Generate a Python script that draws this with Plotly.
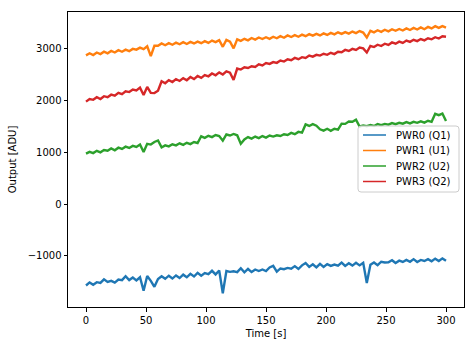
import plotly.graph_objects as go

time_s = [3 * i for i in range(101)]

pwr0 = [-1575, -1515, -1560, -1510, -1525, -1455, -1505, -1485, -1520, -1460,
        -1470, -1395, -1470, -1420, -1475, -1415, -1675, -1390, -1485, -1600,
        -1450, -1395, -1445, -1385, -1440, -1380, -1430, -1365, -1415, -1350,
        -1400, -1330, -1385, -1335, -1355, -1290, -1360, -1285, -1725, -1295,
        -1310, -1300, -1315, -1240, -1320, -1255, -1315, -1265, -1295, -1265,
        -1295, -1225, -1195, -1305, -1245, -1260, -1235, -1250, -1200, -1255,
        -1185, -1140, -1215, -1165, -1225, -1155, -1215, -1160, -1195, -1170,
        -1190, -1130, -1195, -1145, -1190, -1135, -1185, -1135, -1525, -1175,
        -1130, -1180, -1115, -1130, -1125, -1085, -1140, -1095, -1120, -1080,
        -1115, -1065, -1120, -1080, -1100, -1065, -1105, -1055, -1100, -1050,
        -1095]

pwr1 = [2875, 2915, 2880, 2930, 2900, 2945, 2915, 2960, 2930, 2975,
        2945, 2985, 2955, 3000, 2985, 3025, 2995, 3050, 2860, 3060,
        3060, 3105, 3070, 3110, 3080, 3120, 3090, 3130, 3095, 3135,
        3105, 3140, 3110, 3150, 3115, 3160, 3130, 3170, 3040, 3175,
        3140, 3010, 3185, 3155, 3195, 3165, 3210, 3180, 3220, 3190,
        3225, 3195, 3235, 3205, 3245, 3215, 3260, 3230, 3265, 3235,
        3275, 3245, 3285, 3255, 3290, 3260, 3300, 3270, 3310, 3280,
        3320, 3290, 3325, 3295, 3335, 3305, 3345, 3315, 3220, 3350,
        3320, 3360, 3330, 3370, 3340, 3380, 3350, 3385, 3355, 3395,
        3365, 3405, 3375, 3415, 3380, 3425, 3395, 3440, 3405, 3440,
        3410]

pwr2 = [975, 1010, 985, 1030, 1000, 1045, 1030, 1075, 1040, 1090,
        1065, 1110, 1085, 1125, 1105, 1150, 1005, 1165, 1150, 1200,
        1230, 1095, 1135, 1115, 1155, 1135, 1175, 1145, 1185, 1160,
        1200, 1180, 1310, 1280, 1320, 1295, 1335, 1315, 1225, 1345,
        1325, 1355, 1330, 1165, 1250, 1295, 1265, 1305, 1275, 1315,
        1285, 1325, 1305, 1330, 1315, 1350, 1335, 1375, 1350, 1395,
        1380, 1540, 1510, 1545, 1515, 1445, 1420, 1455, 1415, 1455,
        1440, 1555, 1550, 1595, 1590, 1630, 1500, 1520, 1505, 1530,
        1510, 1545, 1525, 1550, 1535, 1565, 1545, 1570, 1555, 1585,
        1560, 1590, 1570, 1600, 1575, 1610, 1590, 1745, 1720, 1750,
        1605]

pwr3 = [1980, 2030, 2015, 2065, 2030, 2085, 2065, 2115, 2095, 2150,
        2125, 2180, 2165, 2215, 2195, 2250, 2110, 2265, 2150, 2145,
        2190, 2375, 2335, 2395, 2360, 2415, 2380, 2435, 2395, 2455,
        2415, 2475, 2440, 2495, 2470, 2525, 2490, 2545, 2505, 2565,
        2540, 2400, 2620, 2600, 2645, 2630, 2665, 2650, 2700, 2680,
        2725, 2710, 2745, 2730, 2775, 2755, 2800, 2780, 2825, 2800,
        2840, 2825, 2870, 2850, 2885, 2870, 2905, 2885, 2925, 2900,
        2945, 2935, 2980, 2960, 3000, 2980, 3025, 3010, 2930, 3055,
        3035, 3080, 3055, 3100, 3075, 3125, 3100, 3140, 3115, 3160,
        3135, 3175, 3150, 3190, 3165, 3205, 3185, 3225, 3200, 3245,
        3235]

names = ["PWR0 (Q1)", "PWR1 (U1)", "PWR2 (U2)", "PWR3 (Q2)"]
colors = ["#1f77b4", "#ff7f0e", "#2ca02c", "#d62728"]
series = [pwr0, pwr1, pwr2, pwr3]

x_ticks = [0, 50, 100, 150, 200, 250, 300]
y_ticks = [-1000, 0, 1000, 2000, 3000]

W, H = 475, 347
ML, MR, MT, MB = 68, 11, 12, 40
PW, PH = W - ML - MR, H - MT - MB


def px_x(p):
    return (p - ML) / PW


def px_y(p):
    return (H - MB - p) / PH


fig = go.Figure()
for name, col, vals in zip(names, colors, series):
    fig.add_trace(go.Scatter(x=time_s, y=vals, mode="lines", name=name,
                             showlegend=False,
                             line=dict(color=col, width=2.4)))

# legend box (drawn like matplotlib's legend)
lx0, lx1, ly0, ly1, r = px_x(358), px_x(459), px_y(126), px_y(192), 3
rx, ry = r / PW, r / PH
path = (f"M {lx0+rx},{ly0} L {lx1-rx},{ly0} Q {lx1},{ly0} {lx1},{ly0-ry} "
        f"L {lx1},{ly1+ry} Q {lx1},{ly1} {lx1-rx},{ly1} "
        f"L {lx0+rx},{ly1} Q {lx0},{ly1} {lx0},{ly1+ry} "
        f"L {lx0},{ly0-ry} Q {lx0},{ly0} {lx0+rx},{ly0} Z")
shapes = [dict(type="path", xref="paper", yref="paper", path=path,
               fillcolor="rgba(255,255,255,0.8)",
               line=dict(color="#cccccc", width=1), layer="above")]
annotations = []
item_y = [135, 150.5, 166, 181.5]
for name, col, yy in zip(names, colors, item_y):
    shapes.append(dict(type="line", xref="paper", yref="paper",
                       x0=px_x(363), x1=px_x(386), y0=px_y(yy), y1=px_y(yy),
                       line=dict(color=col, width=1.5), layer="above"))
    annotations.append(dict(xref="paper", yref="paper", x=px_x(394), y=px_y(yy),
                            xanchor="left", yanchor="middle", showarrow=False,
                            text=name,
                            font=dict(family="DejaVu Sans", size=10, color="black")))

axis_common = dict(showline=True, linecolor="black", linewidth=1, mirror=True,
                   ticks="outside", ticklen=3.5, tickwidth=1, tickcolor="black",
                   showgrid=False, zeroline=False, automargin=False,
                   tickfont=dict(family="DejaVu Sans", size=10, color="black"))

fig.update_layout(
    width=W, height=H,
    margin=dict(l=ML, r=MR, t=MT, b=MB),
    paper_bgcolor="white", plot_bgcolor="white",
    font=dict(family="DejaVu Sans", size=10, color="black"),
    showlegend=False,
    xaxis=dict(range=[-15, 315], tickvals=x_ticks,
               title=dict(text="Time [s]", standoff=5,
                          font=dict(family="DejaVu Sans", size=10)),
               **axis_common),
    yaxis=dict(range=[-1990, 3713], tickvals=y_ticks,
               title=dict(text="Output [ADU]", standoff=9,
                          font=dict(family="DejaVu Sans", size=10)),
               **axis_common),
    shapes=shapes,
    annotations=annotations,
)

fig.write_html("out.html")
